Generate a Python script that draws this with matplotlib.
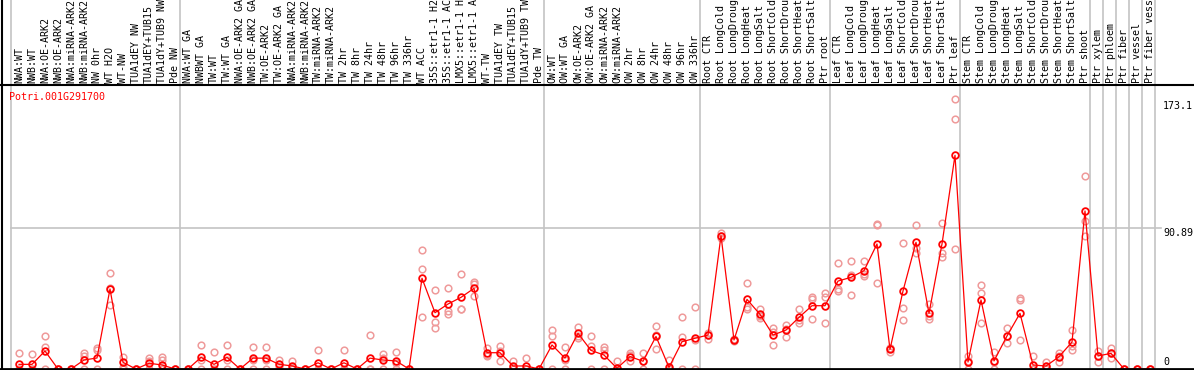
import matplotlib
matplotlib.use("Agg")
import matplotlib.pyplot as plt
from matplotlib.lines import Line2D

W, H = 1194, 370

gene = "Potri.001G291700"

labels = [
    "NWA:WT", "NWB:WT", "NWA:OE-ARK2", "NWB:OE-ARK2", "NWA:miRNA-ARK2", "NWB:miRNA-ARK2",
    "NW 0hr", "WT H2O", "WT-NW", "TUA1dEY NW", "TUA1dEY+TUB15", "TUA1dY+TUB9 NW", "Pde NW",
    "NWA:WT GA", "NWBWT GA", "TW:WT", "TW:WT GA", "NWA:OE-ARK2 GA", "NWB:OE-ARK2 GA",
    "TW:OE-ARK2", "TW:OE-ARK2 GA", "NWA:miRNA-ARK2", "NWB:miRNA-ARK2", "TW:miRNA-ARK2",
    "TW:miRNA-ARK2", "TW 2hr", "TW 8hr", "TW 24hr", "TW 48hr", "TW 96hr", "TW 336hr",
    "WT ACC", "35S::etr1-1 H2", "35S::etr1-1 AC", "LMX5::etr1-1 H", "LMX5::etr1-1 A",
    "WT-TW", "TUA1dEY TW", "TUA1dEY+TUB15", "TUA1dY+TUB9 TW", "Pde TW",
    "OW:WT", "OW:WT GA", "OW:OE-ARK2", "OW:OE-ARK2 GA", "OW:miRNA-ARK2", "OW:miRNA-ARK2",
    "OW 2hr", "OW 8hr", "OW 24hr", "OW 48hr", "OW 96hr", "OW 336hr",
    "Root CTR", "Root LongCold", "Root LongDroug", "Root LongHeat", "Root LongSalt",
    "Root ShortCold", "Root ShortDrou", "Root ShortHeat", "Root ShortSalt", "Ptr root",
    "Leaf CTR", "Leaf LongCold", "Leaf LongDroug", "Leaf LongHeat", "Leaf LongSalt",
    "Leaf ShortCold", "Leaf ShortDrou", "Leaf ShortHeat", "Leaf ShortSalt", "Ptr leaf",
    "Stem CTR", "Stem LongCold", "Stem LongDroug", "Stem LongHeat", "Stem LongSalt",
    "Stem ShortCold", "Stem ShortDrou", "Stem ShortHeat", "Stem ShortSalt", "Ptr shoot",
    "Ptr xylem", "Ptr phloem", "Ptr fiber", "Ptr vessel", "Ptr fiber vess",
]

means = [
    3.0, 3.0, 11.6, 0.0, 0.0, 5.8, 7.1, 51.6, 4.3, 0.0, 3.7, 2.6, 0.0,
    0.0, 7.5, 3.0, 7.5, 0.0, 7.0, 7.0, 3.0, 2.0, 0.0, 4.0, 0.0, 4.0, 0.0, 7.0, 5.8, 5.2, 0.0,
    58.5, 36.3, 41.9, 46.2, 52.0, 10.5, 10.5, 1.9, 2.0, 0.0,
    15.5, 7.0, 23.0, 12.0, 9.0, 0.5, 8.0, 5.0, 21.0, 1.0, 17.6, 19.8,
    21.9, 85.9, 18.7, 44.9, 35.2, 21.9, 25.1, 33.3, 40.8, 40.8,
    56.7, 59.1, 63.4, 80.6, 12.7, 50.3, 81.7, 35.9, 80.6, 137.8,
    4.5, 44.5, 5.2, 21.3, 35.9, 2.6, 1.9, 7.9, 17.4, 101.9,
    8.4, 10.1, 0.0, 0.0, 0.0,
]

rep1 = [
    10.5, 9.5, 21.1, 0.0, 0.0, 10.3, 13.3, 61.7, 7.5, 0.0, 6.9, 7.9, 0.0,
    0.0, 15.3, 10.8, 15.3, 0.0, 14.0, 14.0, 6.0, 5.0, 0.0, 12.0, 0.0, 12.0, 0.0, 22.0, 9.7, 11.2, 0.0,
    76.7, 50.7, 52.0, 61.0, 56.3, 13.8, 14.9, 5.0, 7.0, 0.0,
    25.1, 14.0, 27.0, 21.0, 14.0, 5.0, 10.0, 10.0, 28.0, 6.0, 33.7, 40.2,
    23.4, 87.5, 19.5, 55.3, 38.5, 26.2, 28.4, 38.5, 46.6, 48.8,
    68.1, 69.4, 69.4, 93.3, 11.2, 81.0, 92.6, 41.9, 93.9, 174.0,
    8.4, 54.2, 11.2, 26.2, 45.6, 8.4, 4.7, 4.7, 25.0, 124.6,
    11.8, 13.3, 0.0, 0.0, 0.0,
]

rep2 = [
    0.0, 0.0, 14.4, 0.0, 0.0, 8.4, 12.3, 52.0, 1.5, 0.0, 5.2, 5.8, 0.0,
    0.0, 6.0, 0.0, 6.0, 0.0, 6.0, 6.0, 2.0, 0.0, 0.0, 0.0, 0.0, 0.0, 0.0, 0.0, 7.0, 4.0, 0.0,
    64.3, 30.3, 37.4, 38.9, 54.8, 8.4, 11.5, 0.5, 0.0, 0.0,
    21.3, 6.0, 21.0, 15.0, 12.0, 0.0, 9.0, 5.0, 22.0, 0.0, 20.8, 19.0,
    19.1, 86.0, 18.0, 40.2, 33.1, 15.5, 20.8, 29.9, 44.9, 46.6,
    50.5, 47.5, 59.7, 55.3, 13.5, 39.1, 74.6, 32.0, 74.6, 161.0,
    5.0, 48.8, 4.5, 16.6, 44.5, 0.0, 1.0, 8.5, 15.0, 95.6,
    8.6, 10.1, 0.0, 0.0, 0.0,
]

rep3 = [
    0.0, 0.0, 0.0, 0.0, 0.0, 0.0, 0.0, 41.1, 0.0, 0.0, 0.0, 0.0, 0.0,
    0.0, 0.0, 0.0, 0.0, 0.0, 0.0, 0.0, 0.0, 0.0, 0.0, 0.0, 0.0, 0.0, 0.0, 0.0, 0.0, 0.0, 0.0,
    33.7, 26.2, 35.5, 38.9, 47.1, 9.0, 5.2, 0.0, 0.0, 0.0,
    0.0, 0.0, 20.0, 0.0, 0.0, 0.0, 5.0, 0.0, 13.0, 0.0, 0.0, 0.0,
    22.0, 84.5, 18.5, 38.5, 34.0, 24.0, 26.0, 31.5, 32.0, 29.5,
    51.5, 60.5, 61.0, 93.0, 13.4, 31.6, 78.0, 34.0, 72.0, 77.2,
    0.0, 29.5, 0.0, 21.0, 18.7, 0.0, 0.0, 10.5, 12.0, 85.8,
    4.7, 6.9, 0.0, 0.0, 0.0,
]

ytick_values = [173.1, 90.89, 0]
ytick_texts = ["173.1", "90.89", "0"]

# group separators: after these 0-based column indices
separators = [-1, 12, 40, 52, 62, 72, 82, 83, 84, 85, 86, 87]

# ---------------- layout ----------------
X0, DX = 19.0, 13.0          # pixel of first column, column spacing
PX_PER_UNIT = 1.551
PLOT_TOP, PLOT_BOT = 86, 369
HEAD_BOT = 85

xlim = (-X0 / DX, (W - X0) / DX)

fig = plt.figure(figsize=(W / 100, H / 100), dpi=100)
fig.patch.set_facecolor("white")

mono = "DejaVu Sans Mono"
fs = 7.2
grey = "#c4c4c4"
red = "#ff0000"
pink = "#ef9a9a"

# data axes
ax = fig.add_axes([0, (H - PLOT_BOT) / H, 1, (PLOT_BOT - PLOT_TOP) / H])
ax.set_xlim(*xlim)
ax.set_ylim(0, (PLOT_BOT - PLOT_TOP) / PX_PER_UNIT)
ax.axis("off")

# header axes
hax = fig.add_axes([0, (H - HEAD_BOT) / H, 1, HEAD_BOT / H])
hax.set_xlim(*xlim)
hax.set_ylim(0, HEAD_BOT)
hax.axis("off")

xs = list(range(len(labels)))

for s in separators:
    ax.axvline(s + 0.41, color=grey, lw=1.2, zorder=1)
    hax.axvline(s + 0.41, color=grey, lw=1.2, zorder=1)

ax.axhline(ytick_values[1], xmin=11 / W, xmax=1161 / W, color=grey, lw=1.2, zorder=1)

for reps in (rep1, rep2, rep3):
    ax.plot(xs, reps, linestyle="none", marker="o", ms=4.8, mfc="none",
            mec=pink, mew=1.1, zorder=2)

ax.plot(xs, means, color=red, lw=0.9, marker="o", ms=4.8, mfc="none",
        mec=red, mew=1.3, zorder=3)

# bottom axis line
ax.axhline(0, color="black", lw=2, zorder=4, clip_on=False)

# right-side value labels
xlab = (1163 - X0) / DX
ax.text(xlab, ytick_values[0], ytick_texts[0], family=mono, fontsize=fs,
        va="top", ha="left", color="black")
ax.text(xlab, ytick_values[1], ytick_texts[1], family=mono, fontsize=fs,
        va="top", ha="left", color="black")
ax.text(xlab, ytick_values[2] + 1.6, ytick_texts[2], family=mono, fontsize=fs,
        va="bottom", ha="left", color="black")

# gene name
ax.text((9.5 - X0) / DX, (PLOT_BOT - 97) / PX_PER_UNIT, gene, family=mono,
        fontsize=fs, color=red, va="center", ha="left")

# header labels
for i, lab in enumerate(labels):
    hax.text(i, 2, lab, rotation=90, family=mono, fontsize=fs,
             ha="center", va="bottom", color="black")

# frame lines
fig.add_artist(Line2D([0, 1], [(H - HEAD_BOT) / H] * 2, color="black", lw=1.5,
                      transform=fig.transFigure))
fig.add_artist(Line2D([1.5 / W] * 2, [0, 1], color="black", lw=1.5,
                      transform=fig.transFigure))

fig.savefig("out.png", dpi=100)
